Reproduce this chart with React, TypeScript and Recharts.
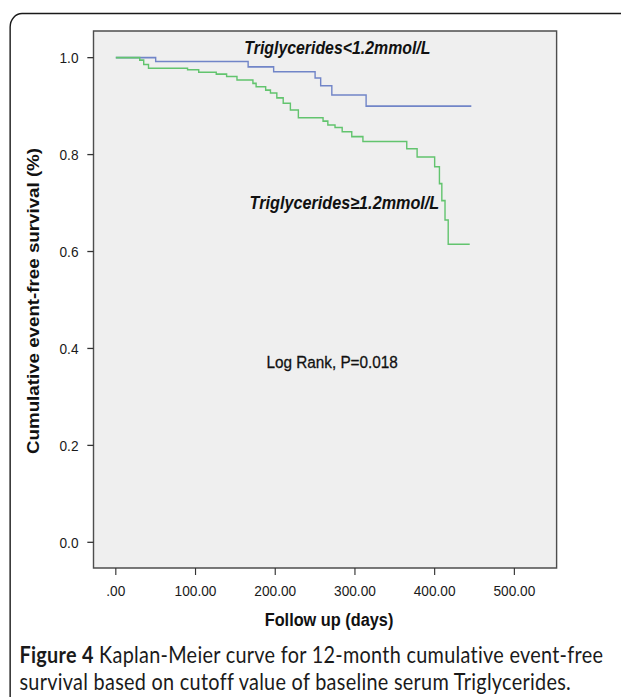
import { LineChart, Line, XAxis, YAxis, ReferenceArea } from 'recharts';

// Triglycerides < 1.2 mmol/L
const lowDays = [0, 50, 166, 198, 250, 257, 271, 314, 446];
const lowSurvival = [1.0, 0.992, 0.981, 0.971, 0.958, 0.942, 0.923, 0.9, 0.9];

// Triglycerides >= 1.2 mmol/L
const highDays = [
  0, 30, 35, 41, 90, 104, 126, 139, 152, 172, 176, 188, 194, 202, 210, 219, 229, 260, 266,
  275, 284, 296, 310, 365, 378, 400, 406, 409, 413, 417, 444,
];
const highSurvival = [
  1.0, 0.995, 0.986, 0.978, 0.975, 0.97, 0.966, 0.961, 0.954, 0.947, 0.94, 0.933, 0.927, 0.917,
  0.906, 0.892, 0.876, 0.869, 0.861, 0.856, 0.847, 0.837, 0.827, 0.812, 0.795, 0.775, 0.74,
  0.705, 0.665, 0.615, 0.615,
];

const xTicks = [0, 100, 200, 300, 400, 500];
const yTicks = [0, 0.2, 0.4, 0.6, 0.8, 1.0];

const lowData = lowDays.map((day, i) => ({ day, survival: lowSurvival[i] }));
const highData = highDays.map((day, i) => ({ day, survival: highSurvival[i] }));

const X_MIN = -28;
const X_MAX = 553;
const Y_MIN = -0.053;
const Y_MAX = 1.055;

// the original figure is squeezed sideways, so draw it wide and compress it
const INNER_W = 704;
const SQUEEZE = 621 / INNER_W;

const axisFont = '"Liberation Sans", Arial, sans-serif';

const formatX = (v: number) => (v === 0 ? '.00' : v.toFixed(2));
const formatY = (v: number) => v.toFixed(1);

export default function App() {
  return (
    <div
      style={{
        position: 'absolute',
        left: 0,
        top: 0,
        width: 621,
        height: 697,
        background: '#fff',
        overflow: 'hidden',
      }}
    >
      <div
        style={{
          position: 'absolute',
          left: 0,
          top: 0,
          width: INNER_W,
          height: 697,
          transform: `scaleX(${SQUEEZE})`,
          transformOrigin: '0 0',
          fontFamily: axisFont,
        }}
      >
        <svg width={INNER_W} height={697} style={{ position: 'absolute', left: 0, top: 0 }}>
          <path
            d="M11.5 697 V27 A13.5 13.5 0 0 1 25 13.5 H704"
            fill="none"
            stroke="#1a1a1a"
            strokeWidth={1.6}
          />
        </svg>
        <div style={{ position: 'absolute', left: 0, top: 0 }}>
          <LineChart width={INNER_W} height={697} margin={{ top: 31, right: 73, bottom: 79, left: 0 }}>
            <XAxis
              type="number"
              dataKey="day"
              domain={[X_MIN, X_MAX]}
              allowDataOverflow
              ticks={xTicks}
              tickFormatter={formatX}
              axisLine={false}
              tickSize={7}
              tickMargin={10}
              tickLine={{ stroke: '#333', strokeWidth: 1.3 }}
              tick={{ fill: '#1a1a1a', fontSize: 15.5, fontFamily: axisFont }}
              height={50}
            />
            <YAxis
              type="number"
              domain={[Y_MIN, Y_MAX]}
              allowDataOverflow
              ticks={yTicks}
              tickFormatter={formatY}
              axisLine={false}
              tickSize={7}
              tickMargin={10}
              tickLine={{ stroke: '#333', strokeWidth: 1.3 }}
              tick={{ fill: '#1a1a1a', fontSize: 15.5, fontFamily: axisFont }}
              width={106}
            />
            <ReferenceArea
              x1={X_MIN}
              x2={X_MAX}
              y1={Y_MIN}
              y2={Y_MAX}
              fill="#efefef"
              fillOpacity={1}
              stroke="#4d4d4d"
              strokeWidth={1.6}
            />
            <Line
              data={lowData}
              type="stepAfter"
              dataKey="survival"
              stroke="#7185c8"
              strokeWidth={1.6}
              dot={false}
              isAnimationActive={false}
            />
            <Line
              data={highData}
              type="stepAfter"
              dataKey="survival"
              stroke="#62c46e"
              strokeWidth={1.6}
              dot={false}
              isAnimationActive={false}
            />
          </LineChart>
        </div>
        <svg
          width={INNER_W}
          height={697}
          style={{ position: 'absolute', left: 0, top: 0, pointerEvents: 'none' }}
        >
          <text
            x={277}
            y={54}
            fontSize={18}
            fontWeight="bold"
            fontStyle="italic"
            fill="#111"
            textLength={211}
            lengthAdjust="spacingAndGlyphs"
          >
            Triglycerides&lt;1.2mmol/L
          </text>
          <text
            x={283}
            y={209}
            fontSize={18}
            fontWeight="bold"
            fontStyle="italic"
            fill="#111"
            textLength={215}
            lengthAdjust="spacingAndGlyphs"
          >
            Triglycerides≥1.2mmol/L
          </text>
          <text
            x={302}
            y={368}
            fontSize={17.3}
            fill="#111"
            stroke="#111"
            strokeWidth={0.3}
            textLength={149}
            lengthAdjust="spacingAndGlyphs"
          >
            Log Rank, P=0.018
          </text>
          <text
            transform="translate(38,301) rotate(-90)"
            textAnchor="middle"
            dominantBaseline="central"
            fontSize={18.6}
            fontWeight="bold"
            fill="#111"
            textLength={306}
            lengthAdjust="spacingAndGlyphs"
          >
            Cumulative event-free survival (%)
          </text>
          <text x={373} y={626} textAnchor="middle" fontSize={18.5} fontWeight="bold" fill="#111">
            Follow up (days)
          </text>
        </svg>
        <div
          style={{
            position: 'absolute',
            left: 22,
            top: 641,
            fontFamily: 'Lato, "Open Sans", sans-serif',
            fontSize: 22.5,
            lineHeight: '27px',
            letterSpacing: '0.33px',
            color: '#1a1a1a',
            whiteSpace: 'nowrap',
          }}
        >
          <div>
            <b>Figure 4</b> Kaplan-Meier curve for 12-month cumulative event-free
          </div>
          <div>survival based on cutoff value of baseline serum Triglycerides.</div>
        </div>
      </div>
    </div>
  );
}
